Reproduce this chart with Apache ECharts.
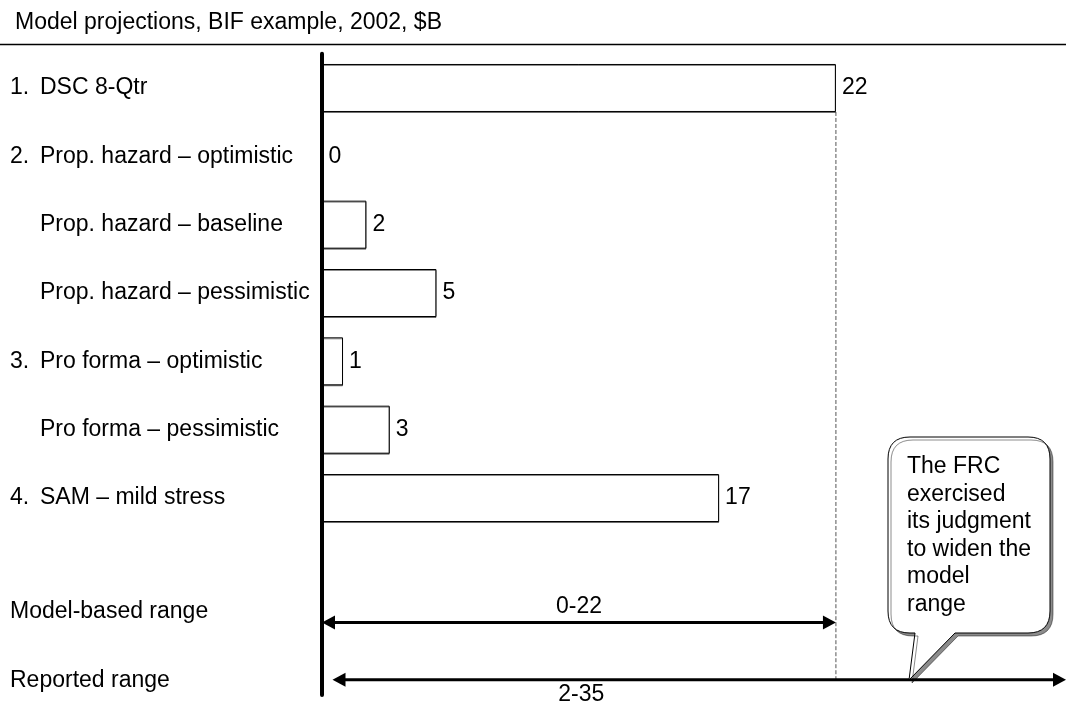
<!DOCTYPE html>
<html lang="en">
<head>
    <meta charset="UTF-8">
    <title>Model projections</title>
    <script src="https://cdn.jsdelivr.net/npm/echarts@6/dist/echarts.min.js"></script>
</head>
<style>
    html, body{
        margin:0;
        padding:0;
        background:#fff;
    }
    #chart{
        width:1066px;
        height:706px;
    }
</style>
<body>
<div id="chart"></div>
</body>
<script>
    // rows of the bar chart
    var models = ['1.|DSC 8-Qtr', '2.|Prop. hazard – optimistic', '|Prop. hazard – baseline',
        '|Prop. hazard – pessimistic', '3.|Pro forma – optimistic', '|Pro forma – pessimistic',
        '4.|SAM – mild stress'];
    // bar lengths as drawn ($B), labels show them rounded
    var values = [22, 0, 1.9, 4.9, 0.9, 2.9, 17];

    // range rows at the bottom
    var rangeNames = ['Model-based range', 'Reported range'];
    var rangeFrom = [0, 0.45];
    var rangeTo = [22, 31.85];
    var rangeText = ['0-22', '2-35'];
    var rangeTextAt = [11, 11.1];

    var calloutLines = ['The FRC', 'exercised', 'its judgment', 'to widen the', 'model', 'range'];

    var font = '"Liberation Sans", Arial, sans-serif';
    var fs = 23;
    var xMax = 31.85;

    // vertical placement inside the range rows (px from row centre)
    var labelDy = [38.6, 26.4];
    var arrowDy = [49.6, 25.4];
    var textDy = [-16, 15];

    var myChart = echarts.init(document.getElementById('chart'));

    function arrow(x1, x2, y) {
        var head = 13, half = 7;
        return [
            {type:'line', shape:{x1:x1 + head - 2, y1:y, x2:x2 - head + 2, y2:y},
                style:{stroke:'#000', lineWidth:3}},
            {type:'polygon', shape:{points:[[x1, y], [x1 + head, y - half], [x1 + head, y + half]]},
                style:{fill:'#000'}},
            {type:'polygon', shape:{points:[[x2, y], [x2 - head, y - half], [x2 - head, y + half]]},
                style:{fill:'#000'}}
        ];
    }

    // callout box with its pointer
    var L = 888, R = 1050, T = 437, B = 633, r = 22;
    var calloutPath = 'M' + (L + r) + ',' + T + ' H' + (R - r) + ' Q' + R + ',' + T + ' ' + R + ',' + (T + r) +
        ' V' + (B - r) + ' Q' + R + ',' + B + ' ' + (R - r) + ',' + B + ' H955 L909,680 L915,' + B +
        ' H' + (L + r) + ' Q' + L + ',' + B + ' ' + L + ',' + (B - r) + ' V' + (T + r) +
        ' Q' + L + ',' + T + ' ' + (L + r) + ',' + T + ' Z';

    var option = {
        animation:false,
        backgroundColor:'#fff',
        title:{
            text:'Model projections, BIF example, 2002, $B',
            left:10,
            top:6,
            textStyle:{fontFamily:font, fontSize:fs, fontWeight:'normal', color:'#000'}
        },
        grid:[
            {left:322, right:0, top:53.8, height:478.4},
            {left:322, right:0, top:532.2, bottom:11}
        ],
        xAxis:[
            {gridIndex:0, type:'value', min:0, max:xMax, show:false},
            {gridIndex:1, type:'value', min:0, max:xMax, show:false}
        ],
        yAxis:[
            {
                gridIndex:0,
                type:'category',
                inverse:true,
                data:models,
                z:10,
                axisLine:{lineStyle:{color:'#000', width:4}},
                axisTick:{show:false},
                splitLine:{show:false},
                axisLabel:{
                    align:'left',
                    margin:312,
                    formatter:function (v) {
                        var p = v.split('|');
                        return '{n|' + (p[0] || ' ') + '}{t|' + p[1] + '}';
                    },
                    rich:{
                        n:{width:30, fontFamily:font, fontSize:fs, color:'#000'},
                        t:{fontFamily:font, fontSize:fs, color:'#000'}
                    }
                }
            },
            {
                gridIndex:1,
                type:'category',
                inverse:true,
                data:rangeNames,
                z:10,
                axisLine:{lineStyle:{color:'#000', width:4}},
                axisTick:{show:false},
                axisLabel:{show:false},
                splitLine:{show:false}
            }
        ],
        series:[
            {
                name:'Projection',
                type:'bar',
                xAxisIndex:0,
                yAxisIndex:0,
                data:values,
                barWidth:48,
                itemStyle:{
                    color:'#fff',
                    borderColor:'#000',
                    borderWidth:1,
                    shadowColor:'rgba(0,0,0,0.45)',
                    shadowOffsetY:1
                },
                label:{
                    show:true,
                    position:'right',
                    distance:6,
                    fontFamily:font,
                    fontSize:fs,
                    color:'#000',
                    formatter:function (p) { return Math.round(p.value); }
                }
            },
            {
                // dashed guide under the top bar
                name:'guideTop',
                type:'custom',
                xAxisIndex:0,
                yAxisIndex:0,
                data:[[rangeTo[0], 0]],
                renderItem:function (params, api) {
                    var p = api.coord([api.value(0), api.value(1)]);
                    return {type:'line', shape:{x1:p[0], y1:p[1] + 24, x2:p[0],
                            y2:params.coordSys.y + params.coordSys.height},
                        style:{stroke:'#555', lineWidth:1, lineDash:[4, 2]}};
                }
            },
            {
                name:'Ranges',
                type:'custom',
                xAxisIndex:1,
                yAxisIndex:1,
                data:rangeNames.map(function (n, i) { return [rangeFrom[i], rangeTo[i], i]; }),
                renderItem:function (params, api) {
                    var i = api.value(2);
                    var a = api.coord([api.value(0), i]);
                    var b = api.coord([api.value(1), i]);
                    var y = a[1] + arrowDy[i];
                    var children = arrow(a[0], b[0], y);
                    children.push({type:'text', style:{x:params.coordSys.x - 312, y:a[1] + labelDy[i],
                            text:rangeNames[i], font:fs + 'px ' + font, fill:'#000',
                            align:'left', verticalAlign:'middle'}});
                    var t = api.coord([rangeTextAt[i], i]);
                    children.push({type:'text', style:{x:t[0], y:y + textDy[i], text:rangeText[i],
                            font:fs + 'px ' + font, fill:'#000', align:'center', verticalAlign:'middle'}});
                    if (i === 1) {
                        // dashed guide continues down to the reported range
                        var g = api.coord([rangeTo[0], i]);
                        children.unshift({type:'line', shape:{x1:g[0], y1:params.coordSys.y, x2:g[0], y2:y},
                            style:{stroke:'#555', lineWidth:1, lineDash:[4, 2]}});
                    }
                    return {type:'group', children:children};
                }
            },
            {
                // callout note
                name:'Callout',
                type:'custom',
                xAxisIndex:1,
                yAxisIndex:1,
                z:20,
                data:[[0, 0]],
                renderItem:function () {
                    return {type:'group', children:[
                        {type:'path', shape:{pathData:calloutPath},
                            style:{fill:'#fff', stroke:'#000', lineWidth:1,
                                shadowColor:'rgba(0,0,0,0.45)', shadowOffsetX:3, shadowOffsetY:3, shadowBlur:0}},
                        {type:'text', style:{x:907, y:453, text:calloutLines.join('\n'),
                                font:fs + 'px ' + font, fill:'#000', lineHeight:27.5}}
                    ]};
                }
            }
        ],
        graphic:[
            {type:'line', shape:{x1:0, y1:44.5, x2:1066, y2:44.5}, style:{stroke:'#000', lineWidth:1.5}}
        ]
    };
    myChart.setOption(option);
</script>
</html>
